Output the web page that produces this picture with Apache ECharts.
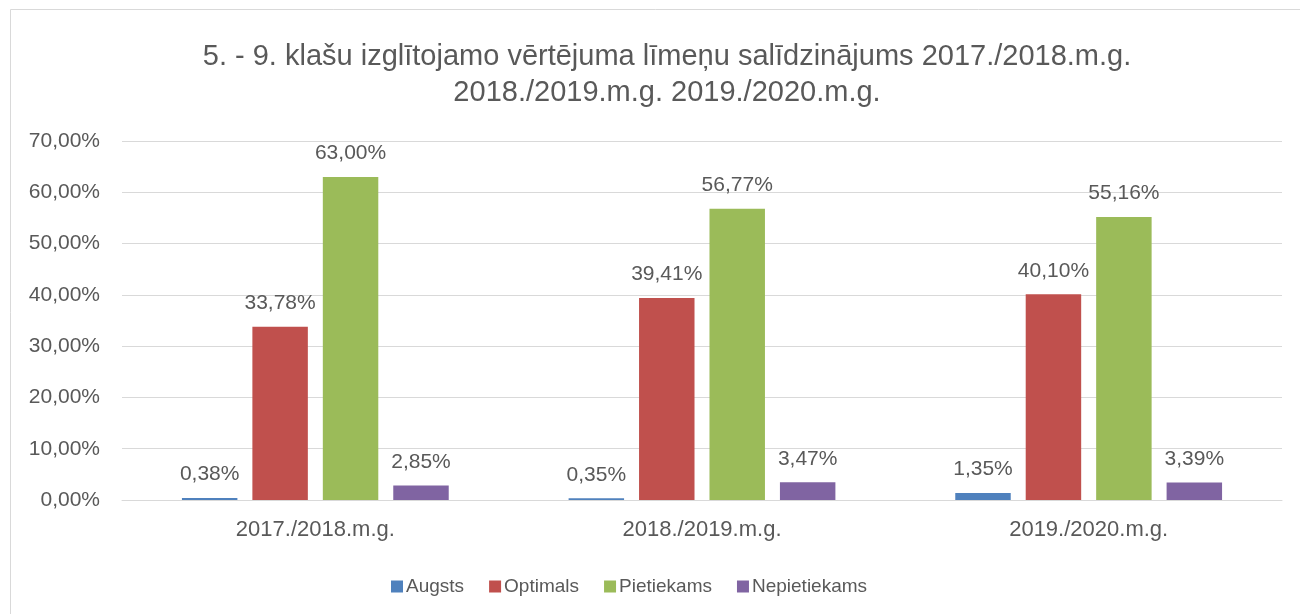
<!DOCTYPE html>
<html>
<head>
<meta charset="utf-8">
<script src="https://cdn.jsdelivr.net/npm/echarts@6/dist/echarts.min.js"></script>
<style>
  html, body { margin: 0; padding: 0; background: #fff; }
  #chart { width: 1300px; height: 614px; }
</style>
</head>
<body>
<div id="chart"></div>
<script>
// chart data
const titleText = '5. - 9. klašu izglītojamo vērtējuma līmeņu salīdzinājums 2017./2018.m.g.\n2018./2019.m.g. 2019./2020.m.g.';
const years = ['2017./2018.m.g.', '2018./2019.m.g.', '2019./2020.m.g.'];
const seriesNames = ['Augsts', 'Optimals', 'Pietiekams', 'Nepietiekams'];
const augsts = [0.38, 0.35, 1.35];
const optimals = [33.78, 39.41, 40.1];
const pietiekams = [63.0, 56.77, 55.16];
const nepietiekams = [2.85, 3.47, 3.39];
const colors = ['#4F81BD', '#C0504D', '#9BBB59', '#8064A2'];

const font = '"Liberation Sans", Arial, sans-serif';
const textColor = '#595959';

// 12,34% formāts
function pct(v) {
  return v.toFixed(2).replace('.', ',') + '%';
}

const values = [augsts, optimals, pietiekams, nepietiekams];

let myChart = echarts.init(document.getElementById('chart'));

let option = {
  animation: false,
  color: colors,
  textStyle: { fontFamily: font },
  title: {
    text: titleText,
    left: 662,
    textAlign: 'center',
    top: 34,
    textStyle: {
      fontFamily: font,
      fontSize: 29,
      fontWeight: 'normal',
      color: textColor,
      lineHeight: 36,
    },
  },
  grid: {
    left: 122,
    right: 18,
    top: 141,
    bottom: 114,
  },
  legend: {
    left: 386,
    top: 572,
    itemWidth: 12,
    itemHeight: 12,
    itemGap: 25,
    icon: 'rect',
    textStyle: { fontFamily: font, fontSize: 19, color: textColor, padding: [0, 0, 0, -2] },
    data: seriesNames,
  },
  xAxis: {
    type: 'category',
    data: years,
    axisLine: { lineStyle: { color: '#D9D9D9', width: 1 } },
    axisTick: { show: false },
    axisLabel: { fontFamily: font, fontSize: 22, color: textColor, margin: 19 },
  },
  yAxis: {
    type: 'value',
    min: 0,
    max: 70,
    interval: 10,
    axisLine: { show: false },
    axisTick: { show: false },
    splitLine: { lineStyle: { color: '#D9D9D9', width: 1 } },
    axisLabel: {
      fontFamily: font,
      fontSize: 21,
      color: textColor,
      margin: 22,
      formatter: (v) => pct(v),
    },
  },
  series: seriesNames.map((name, i) => ({
    name: name,
    type: 'bar',
    data: values[i],
    barGap: '27%',
    barCategoryGap: '31%',
    itemStyle: { color: colors[i] },
    label: {
      show: true,
      position: 'top',
      distance: 13,
      fontFamily: font,
      fontSize: 21,
      color: textColor,
      formatter: (p) => pct(p.value),
    },
  })),
  graphic: [
    {
      type: 'rect',
      shape: { x: 10.5, y: 9.5, width: 1400, height: 700 },
      style: { fill: 'none', stroke: '#D9D9D9', lineWidth: 1 },
      z: -1,
    },
  ],
};

myChart.setOption(option);
</script>
</body>
</html>
